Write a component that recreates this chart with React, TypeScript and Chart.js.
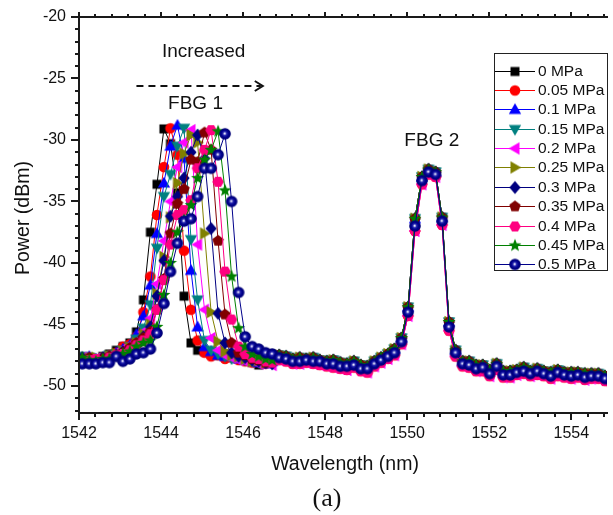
import React, { useEffect, useRef } from "react";
import { Chart, registerables } from "chart.js";
Chart.register(...registerables);

// ---------------- data ----------------
const WAVELENGTHS = [
  1541.91, 1542.08, 1542.25, 1542.41, 1542.58, 1542.74, 1542.91, 1543.07, 1543.24, 1543.40,
  1543.57, 1543.74, 1543.90, 1544.07, 1544.23, 1544.40, 1544.56, 1544.73, 1544.89, 1545.06,
  1545.22, 1545.39, 1545.56, 1545.72, 1545.89, 1546.05, 1546.22, 1546.38, 1546.55, 1546.71,
  1546.88, 1547.05, 1547.21, 1547.38, 1547.54, 1547.71, 1547.87, 1548.04, 1548.20, 1548.37,
  1548.53, 1548.70, 1548.87, 1549.03, 1549.20, 1549.36, 1549.53, 1549.69, 1549.86, 1550.02,
  1550.19, 1550.36, 1550.52, 1550.69, 1550.85, 1551.02, 1551.18, 1551.35, 1551.51, 1551.68,
  1551.84, 1552.01, 1552.18, 1552.34, 1552.51, 1552.67, 1552.84, 1553.00, 1553.17, 1553.33,
  1553.50, 1553.67, 1553.83, 1554.00, 1554.16, 1554.33, 1554.49, 1554.66, 1554.82, 1554.99,
];

// FBG1 region (first 30 wavelengths), one per series
const FBG1_0 = [-47.6, -47.8, -47.7, -47.9, -47.6, -47.4, -47.1, -46.8, -46.5, -45.6, -43.0, -37.5, -33.6, -29.1, -30.3, -34.3, -42.7, -46.5, -47.1, -47.2, -47.4, -47.5, -47.4, -47.6, -47.8, -47.8, -48.0, -48.3, -48.0, -47.9];
const FBG1_05 = [-47.5, -47.7, -47.8, -47.9, -47.7, -47.5, -47.3, -46.8, -46.6, -46.0, -44.0, -41.1, -36.1, -32.2, -29.05, -31.2, -39.0, -43.8, -46.3, -47.3, -47.6, -47.5, -47.8, -47.7, -47.9, -48.0, -48.1, -48.0, -48.2, -48.1];
const FBG1_10 = [-47.7, -47.8, -47.6, -47.8, -47.9, -47.6, -47.3, -47.0, -46.7, -45.8, -44.3, -41.8, -37.6, -33.5, -30.5, -28.8, -31.5, -40.6, -45.2, -46.8, -47.2, -47.5, -47.6, -47.5, -47.8, -47.9, -47.8, -48.1, -48.2, -48.0];
const FBG1_15 = [-47.8, -47.6, -47.7, -48.0, -47.8, -47.5, -47.4, -47.1, -46.8, -46.2, -45.3, -43.4, -38.8, -34.6, -32.8, -30.5, -29.05, -38.1, -43.0, -46.3, -47.1, -47.4, -47.6, -47.8, -47.7, -47.9, -48.0, -48.1, -48.0, -48.2];
const FBG1_20 = [-47.9, -47.7, -47.9, -47.8, -47.7, -47.6, -47.3, -47.0, -46.7, -46.4, -45.6, -44.5, -41.7, -38.2, -35.0, -32.2, -30.2, -29.2, -38.5, -43.8, -46.1, -47.1, -47.5, -47.7, -47.9, -48.0, -47.9, -48.2, -48.1, -48.3];
const FBG1_25 = [-47.6, -47.9, -47.8, -47.7, -47.9, -47.6, -47.4, -47.2, -46.9, -46.5, -45.8, -45.0, -42.5, -39.5, -36.3, -33.5, -31.1, -29.6, -30.2, -37.6, -44.0, -46.4, -47.2, -47.5, -47.6, -47.8, -48.0, -47.9, -48.1, -48.0];
const FBG1_30 = [-47.8, -47.7, -48.0, -47.9, -47.7, -47.7, -47.5, -47.2, -47.0, -46.6, -46.0, -45.2, -42.7, -39.8, -36.2, -34.6, -33.1, -31.0, -29.6, -31.5, -37.2, -44.1, -46.5, -47.3, -47.6, -47.7, -47.9, -48.0, -48.1, -48.2];
const FBG1_35 = [-47.7, -47.9, -47.7, -48.0, -47.8, -47.6, -47.5, -47.3, -46.9, -46.5, -46.1, -45.6, -43.8, -41.3, -37.6, -35.2, -34.0, -31.6, -31.8, -29.4, -30.8, -38.2, -44.2, -46.5, -47.3, -47.5, -47.8, -47.9, -48.1, -48.0];
const FBG1_40 = [-47.9, -48.0, -47.9, -47.8, -48.0, -47.7, -47.5, -47.4, -47.1, -46.7, -46.3, -45.8, -43.8, -41.4, -38.5, -36.1, -35.7, -34.9, -32.3, -30.8, -29.2, -33.4, -40.7, -44.6, -46.8, -47.4, -47.7, -47.8, -48.0, -48.1];
const FBG1_45 = [-47.8, -47.7, -47.9, -48.0, -47.8, -47.8, -47.6, -47.4, -47.2, -46.8, -46.5, -46.3, -45.2, -42.6, -40.0, -37.5, -36.5, -35.3, -33.1, -31.6, -30.8, -29.3, -34.1, -41.1, -45.3, -46.8, -47.4, -47.6, -47.8, -47.9];
const FBG1_50 = [-48.2, -48.2, -48.2, -48.2, -48.1, -48.1, -47.6, -48.0, -47.8, -47.4, -47.3, -47.0, -45.7, -43.3, -40.7, -38.4, -36.6, -36.4, -34.6, -32.3, -32.3, -31.2, -29.5, -35.0, -42.4, -46.0, -46.8, -47.0, -47.3, -47.4];

// FBG2 and baseline region (last 50 wavelengths); the curves overlap there
const REST_SPHERE = [-47.7, -47.8, -48.0, -48.0, -47.9, -48.0, -48.0, -48.2, -48.2, -48.4, -48.4, -48.3, -48.6, -48.6, -48.2, -47.9, -47.6, -47.3, -46.4, -44.0, -37.0, -33.3, -32.6, -32.8, -36.6, -45.2, -47.3, -48.2, -48.3, -48.6, -48.5, -49.0, -48.4, -49.1, -49.1, -48.9, -48.8, -49.0, -48.8, -49.0, -49.2, -48.9, -49.1, -49.2, -49.1, -49.3, -49.2, -49.2, -49.4, -49.7];
const REST_UPPER = [-47.5, -47.6, -47.8, -47.7, -47.8, -47.7, -47.9, -48.0, -47.9, -48.1, -48.2, -48.0, -48.3, -48.4, -48.0, -47.7, -47.4, -47.0, -46.1, -43.6, -36.4, -33.0, -32.4, -32.6, -36.3, -44.8, -47.1, -48.0, -48.0, -48.3, -48.3, -48.7, -48.2, -48.8, -48.8, -48.7, -48.5, -48.8, -48.6, -48.8, -48.9, -48.7, -48.9, -48.9, -48.9, -49.0, -49.0, -49.0, -49.2, -49.5];
const REST_LOWER = [-47.9, -48.0, -48.2, -48.2, -48.1, -48.2, -48.3, -48.4, -48.5, -48.6, -48.7, -48.5, -48.8, -48.9, -48.4, -48.1, -47.8, -47.5, -46.6, -44.3, -37.4, -33.6, -32.8, -33.0, -36.9, -45.5, -47.6, -48.4, -48.5, -48.8, -48.8, -49.2, -48.7, -49.3, -49.3, -49.1, -49.0, -49.2, -49.1, -49.2, -49.4, -49.2, -49.3, -49.4, -49.3, -49.5, -49.4, -49.4, -49.6, -49.9];

const SERIES_LABELS = ["0 MPa", "0.05 MPa", "0.1 MPa", "0.15 MPa", "0.2 MPa", "0.25 MPa", "0.3 MPa", "0.35 MPa", "0.4 MPa", "0.45 MPa", "0.5 MPa"];
const SERIES_FBG1 = [FBG1_0, FBG1_05, FBG1_10, FBG1_15, FBG1_20, FBG1_25, FBG1_30, FBG1_35, FBG1_40, FBG1_45, FBG1_50];
const SERIES_REST = [REST_UPPER, REST_LOWER, REST_UPPER, REST_UPPER, REST_LOWER, REST_UPPER, REST_UPPER, REST_UPPER, REST_LOWER, REST_UPPER, REST_SPHERE];

const X_TICKS = [1542, 1544, 1546, 1548, 1550, 1552, 1554];
const Y_TICKS = [-50, -45, -40, -35, -30, -25, -20];

// ---------------- styles ----------------
const SERIES_COLORS = ["#000000", "#FF0000", "#0000FF", "#008080", "#FF00FF", "#808000", "#000080", "#800000", "#FF0080", "#008000", "#00008B"];
const SERIES_MARKERS = ["square", "circle", "up", "down", "left", "right", "diamond", "pentagon", "hexagon", "star", "sphere"];
const FONT = '"Liberation Sans", Arial, sans-serif';
const INK = "#111111";

function polygon(g: CanvasRenderingContext2D, n: number, r: number, start: number) {
  for (let i = 0; i < n; i++) {
    const a = start + (i * 2 * Math.PI) / n;
    const px = r * Math.cos(a), py = r * Math.sin(a);
    if (i === 0) g.moveTo(px, py); else g.lineTo(px, py);
  }
  g.closePath();
}

function makeMarker(kind: string, color: string): HTMLCanvasElement {
  const c = document.createElement("canvas");
  c.width = 16; c.height = 16;
  const g = c.getContext("2d")!;
  g.translate(8, 8);
  g.fillStyle = color;
  g.beginPath();
  switch (kind) {
    case "square": g.rect(-4.5, -4.5, 9, 9); break;
    case "circle": g.arc(0, 0, 5.3, 0, Math.PI * 2); break;
    case "up": g.moveTo(0, -6.3); g.lineTo(6.2, 4.5); g.lineTo(-6.2, 4.5); g.closePath(); break;
    case "down": g.moveTo(0, 6.3); g.lineTo(6.2, -4.5); g.lineTo(-6.2, -4.5); g.closePath(); break;
    case "left": g.moveTo(-6.3, 0); g.lineTo(4.5, -6.2); g.lineTo(4.5, 6.2); g.closePath(); break;
    case "right": g.moveTo(6.3, 0); g.lineTo(-4.5, -6.2); g.lineTo(-4.5, 6.2); g.closePath(); break;
    case "diamond": g.moveTo(0, -6.5); g.lineTo(5.6, 0); g.lineTo(0, 6.5); g.lineTo(-5.6, 0); g.closePath(); break;
    case "pentagon": polygon(g, 5, 6, -Math.PI / 2); break;
    case "hexagon": polygon(g, 6, 5.8, 0); break;
    case "star": {
      for (let i = 0; i < 10; i++) {
        const r = i % 2 === 0 ? 6.8 : 2.9;
        const a = -Math.PI / 2 + (i * Math.PI) / 5;
        if (i === 0) g.moveTo(r * Math.cos(a), r * Math.sin(a)); else g.lineTo(r * Math.cos(a), r * Math.sin(a));
      }
      g.closePath();
      break;
    }
    case "sphere": {
      g.arc(0, 0, 5.8, 0, Math.PI * 2);
      const grd = g.createRadialGradient(-0.4, -0.4, 0, 0, 0, 5.8);
      grd.addColorStop(0, "#ffffff");
      grd.addColorStop(0.12, "#c4c4f0");
      grd.addColorStop(0.32, "#2a2ab0");
      grd.addColorStop(0.6, "#00008e");
      grd.addColorStop(1, "#000072");
      g.fillStyle = grd;
      break;
    }
  }
  g.fill();
  return c;
}

export default function App() {
  const ref = useRef<HTMLCanvasElement | null>(null);

  useEffect(() => {
    document.body.style.margin = "0";
    const canvas = ref.current;
    if (!canvas) return;
    const markers = SERIES_MARKERS.map((m, i) => makeMarker(m, SERIES_COLORS[i]));

    const datasets = SERIES_LABELS.map((label, i) => {
      const powers = SERIES_FBG1[i].concat(SERIES_REST[i]);
      return {
        label,
        data: WAVELENGTHS.map((x, j) => ({ x, y: powers[j] })),
        borderColor: SERIES_COLORS[i],
        backgroundColor: SERIES_COLORS[i],
        borderWidth: 1,
        pointStyle: markers[i] as any,
        pointRadius: 5,
        tension: 0,
        order: SERIES_LABELS.length - 1 - i,
        clip: 0,
      };
    });

    const decor = {
      id: "decor",
      afterDraw(chart: any) {
        const { ctx, chartArea: a } = chart;
        const xs = chart.scales.x, ys = chart.scales.y;
        ctx.save();
        // axes
        ctx.strokeStyle = "#1a1a1a";
        ctx.lineWidth = 2;
        ctx.beginPath();
        ctx.moveTo(a.left - 1, a.top); ctx.lineTo(a.right + 1, a.top);
        ctx.moveTo(a.left, a.top - 1); ctx.lineTo(a.left, a.bottom + 1);
        ctx.moveTo(a.left - 1, a.bottom); ctx.lineTo(a.right + 1, a.bottom);
        ctx.stroke();
        // x ticks (major every 2, minor every 0.4)
        ctx.beginPath();
        for (let i = 0; ; i++) {
          const v = 1542 + i * 0.4;
          if (v > xs.max + 1e-6) break;
          const px = Math.round(xs.getPixelForValue(v));
          const major = i % 5 === 0;
          ctx.moveTo(px, a.bottom); ctx.lineTo(px, a.bottom + (major ? 7 : 4));
          ctx.moveTo(px, a.top); ctx.lineTo(px, a.top - (major ? 5 : 3));
        }
        // y ticks (major every 5, minor every 1)
        for (let v = -52; v <= -20; v++) {
          if (v < ys.min) continue;
          const py = Math.round(ys.getPixelForValue(v));
          const major = v % 5 === 0;
          ctx.moveTo(a.left, py); ctx.lineTo(a.left - (major ? 8 : 4), py);
        }
        ctx.stroke();

        // tick labels
        ctx.fillStyle = INK;
        ctx.font = `16px ${FONT}`;
        ctx.textAlign = "center";
        ctx.textBaseline = "middle";
        X_TICKS.forEach((v) => ctx.fillText(String(v), xs.getPixelForValue(v), a.bottom + 21));
        ctx.textAlign = "right";
        Y_TICKS.forEach((v) => ctx.fillText(String(v), a.left - 13, ys.getPixelForValue(v)));

        // axis titles
        ctx.font = `19.5px ${FONT}`;
        ctx.textAlign = "center";
        ctx.fillText("Wavelength (nm)", (a.left + a.right) / 2 + 2, a.bottom + 52);
        ctx.save();
        ctx.translate(24, (a.top + a.bottom) / 2 + 3);
        ctx.rotate(-Math.PI / 2);
        ctx.fillText("Power (dBm)", 0, 0);
        ctx.restore();
        ctx.font = '26px "Liberation Serif", "Times New Roman", serif';
        ctx.fillText("(a)", 327, 499);

        // annotations
        ctx.font = `19px ${FONT}`;
        ctx.fillText("Increased", xs.getPixelForValue(1545.04), ys.getPixelForValue(-22.85));
        ctx.fillText("FBG 1", xs.getPixelForValue(1544.84), ys.getPixelForValue(-27.07));
        ctx.fillText("FBG 2", xs.getPixelForValue(1550.6), ys.getPixelForValue(-30.08));
        const ay = Math.round(ys.getPixelForValue(-25.6));
        const ax0 = xs.getPixelForValue(1543.4), ax1 = xs.getPixelForValue(1546.48);
        ctx.strokeStyle = INK;
        ctx.lineWidth = 2;
        ctx.setLineDash([7, 5]);
        ctx.beginPath(); ctx.moveTo(ax0, ay); ctx.lineTo(ax1 - 2, ay); ctx.stroke();
        ctx.setLineDash([]);
        ctx.beginPath(); ctx.moveTo(ax1 - 8, ay - 5); ctx.lineTo(ax1, ay); ctx.lineTo(ax1 - 8, ay + 5); ctx.stroke();

        // legend
        const lx = 494, ly = 53, lw = 113, lh = 217;
        ctx.fillStyle = "#ffffff";
        ctx.fillRect(lx, ly, lw, lh);
        ctx.strokeStyle = "#222222";
        ctx.lineWidth = 1;
        ctx.strokeRect(lx + 0.5, ly + 0.5, lw, lh);
        ctx.font = `15.5px ${FONT}`;
        ctx.textAlign = "left";
        SERIES_LABELS.forEach((label, i) => {
          const yy = Math.round(70.7 + i * 19.35);
          ctx.strokeStyle = SERIES_COLORS[i];
          ctx.beginPath(); ctx.moveTo(lx + 1, yy + 0.5); ctx.lineTo(lx + 41, yy + 0.5); ctx.stroke();
          ctx.drawImage(markers[i], lx + 21 - 8, yy - 8 + 0.5);
          ctx.fillStyle = INK;
          ctx.fillText(label, lx + 44, yy + 1);
        });
        ctx.restore();
      },
    };

    const chart = new Chart(canvas, {
      type: "line",
      data: { datasets: datasets as any },
      options: {
        responsive: false,
        animation: false,
        devicePixelRatio: 1,
        layout: { padding: { top: 17, left: 0, right: 0, bottom: 0 } },
        plugins: { legend: { display: false }, tooltip: { enabled: false } },
        scales: {
          x: {
            type: "linear",
            min: 1542,
            max: 1554.87,
            grid: { display: false },
            border: { display: false },
            ticks: { display: false },
            afterFit: (s: any) => { s.height = 102; },
          },
          y: {
            type: "linear",
            min: -52.2,
            max: -20,
            grid: { display: false },
            border: { display: false },
            ticks: { display: false },
            afterFit: (s: any) => { s.width = 79; },
          },
        },
      },
      plugins: [decor],
    });
    return () => chart.destroy();
  }, []);

  return <canvas ref={ref} width={613} height={515} style={{ display: "block" }} />;
}
